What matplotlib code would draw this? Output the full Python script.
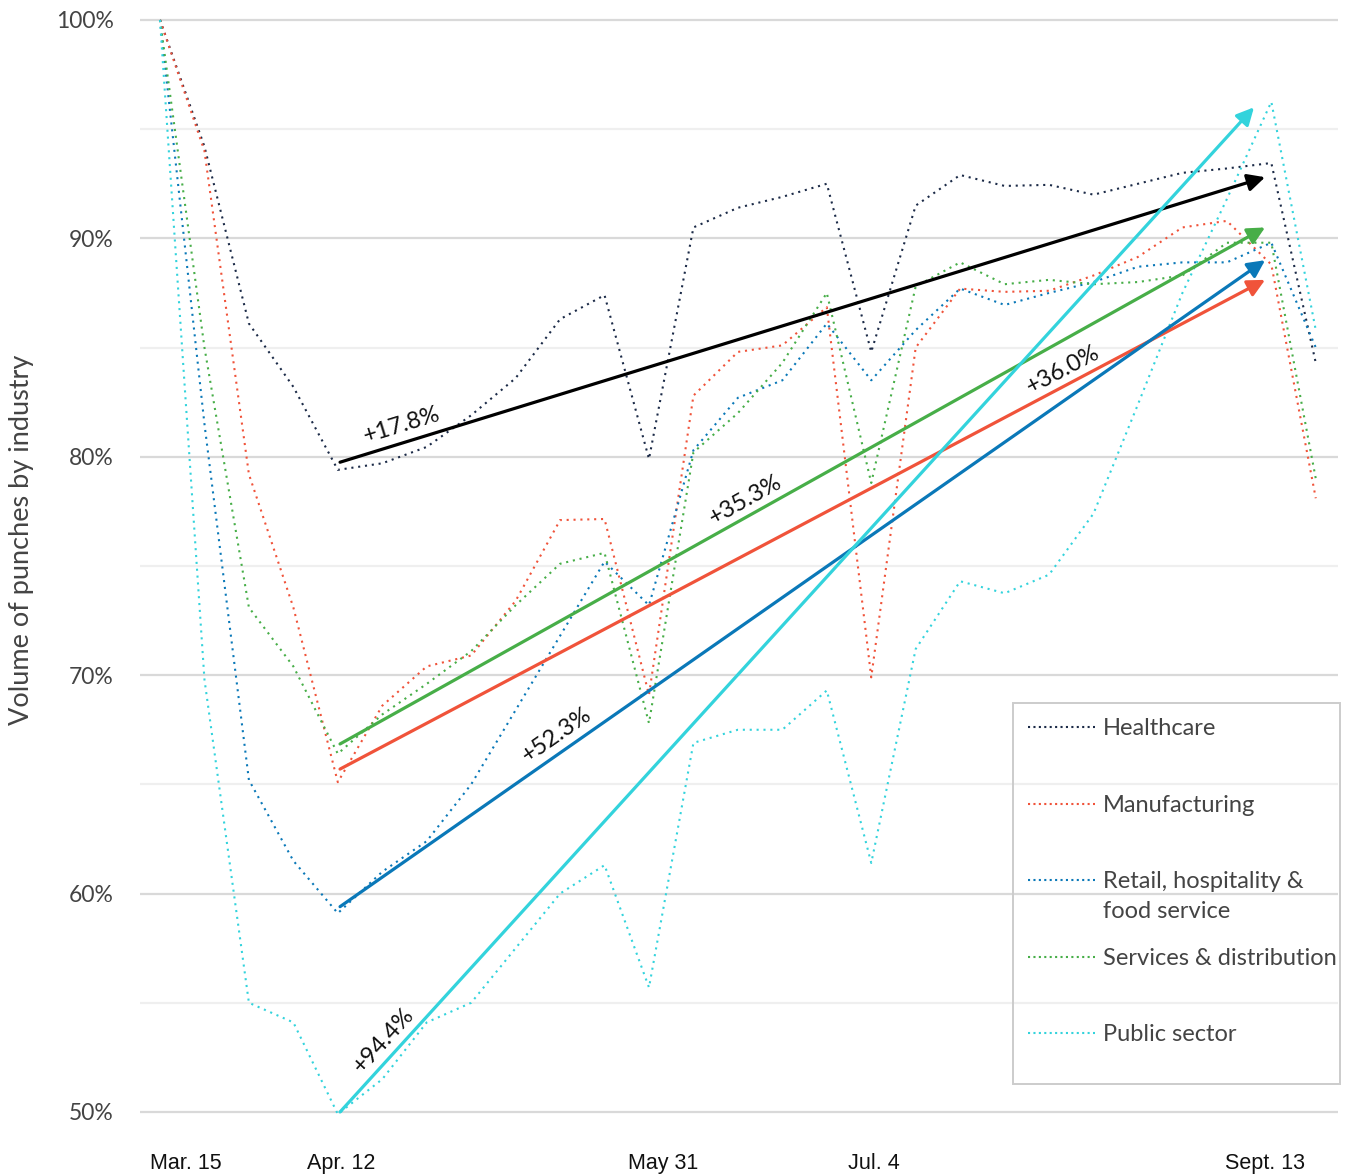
import matplotlib
matplotlib.use("Agg")
import matplotlib.pyplot as plt
from matplotlib.lines import Line2D
from matplotlib.patches import Rectangle
import numpy as np

plt.rcParams['font.family'] = ['Lato', 'DejaVu Sans']

# weekly index, Mar. 15 -> Sept. 13
weeks = np.arange(27)

healthcare = [100, 94.2, 86.1, 83.2, 79.4, 79.7, 80.45, 81.9, 83.6, 86.3, 87.4, 79.9,
              90.5, 91.4, 91.9, 92.5, 84.8, 91.5, 92.9, 92.4, 92.45, 92.0, 92.5, 93.0,
              93.2, 93.45, 84.3]
manufacturing = [100, 94.0, 79.2, 73.1, 65.1, 68.6, 70.4, 70.9, 73.4, 77.1, 77.15, 69.1,
                 82.8, 84.8, 85.1, 86.85, 69.9, 85.0, 87.7, 87.55, 87.6, 88.3, 89.15, 90.5,
                 90.8, 88.8, 78.1]
retail = [100, 81.5, 65.2, 61.5, 59.1, 61.0, 62.4, 65.0, 68.4, 71.8, 75.2, 73.2,
          80.3, 82.7, 83.5, 86.1, 83.5, 85.8, 87.7, 86.95, 87.5, 88.0, 88.7, 88.9,
          88.9, 89.8, 85.0]
services = [100, 85.0, 73.1, 70.4, 66.4, 68.2, 69.6, 71.1, 73.2, 75.1, 75.6, 67.8,
            80.2, 82.0, 84.3, 87.5, 78.8, 87.8, 88.9, 87.9, 88.1, 87.9, 88.0, 88.3,
            89.8, 89.8, 79.0]
public = [100, 69.8, 55.0, 54.1, 49.9, 51.5, 54.1, 55.0, 57.5, 60.0, 61.3, 55.7,
          66.9, 67.5, 67.5, 69.3, 61.4, 71.2, 74.3, 73.75, 74.6, 77.4, 82.4, 87.5,
          91.8, 96.25, 85.8]

names = ['Healthcare', 'Manufacturing', 'Retail, hospitality &\nfood service',
         'Services & distribution', 'Public sector']
series = [healthcare, manufacturing, retail, services, public]
colors = ['#1b2a47', '#f0533a', '#0a78b8', '#47ae48', '#33d3dc']
arrow_colors = ['#000000', '#f0533a', '#0a78b8', '#47ae48', '#33d3dc']

# trend arrows: (start week, start value, end week, end value)
trend_start = [4.05, 4.05, 4.05, 4.05, 4.05]
trend_end = [24.86, 24.86, 24.86, 24.86, 24.61]
trend_v0 = [79.75, 65.7, 59.4, 66.85, 50.0]
trend_v1 = [92.8, 88.1, 89.0, 90.5, 96.0]
trend_labels = ['+17.8%', '+36.0%', '+52.3%', '+35.3%', '+94.4%']
label_pos = [(5.44, 81.46), (20.31, 83.97), (8.93, 67.26), (13.16, 78.02), (5.02, 53.3)]

tick_pos = [0.585, 4.07, 11.32, 16.06, 24.86]
tick_labels = ['Mar. 15', 'Apr. 12', 'May 31', 'Jul. 4', 'Sept. 13']

W, H = 1350, 1174
fig = plt.figure(figsize=(W / 100, H / 100), dpi=100)
ax = fig.add_axes([140 / W, 1 - 1120.7 / H, 1198 / W, 1107.3 / H])
ax.set_xlim(-0.45, 26.5)
ax.set_ylim(49.6, 100.3)

for v in range(50, 101, 10):
    ax.axhline(v, color='#d9d9d9', lw=1.6, zorder=0)
for v in range(55, 100, 10):
    ax.axhline(v, color='#efefef', lw=1.6, zorder=0)

for vals, c in zip(series, colors):
    ax.plot(weeks, vals, color=c, lw=1.5, dashes=(1, 2.3), zorder=2)

for i in range(5):
    ax.annotate('', xy=(trend_end[i], trend_v1[i]), xytext=(trend_start[i], trend_v0[i]),
                arrowprops=dict(arrowstyle='-|>', color=arrow_colors[i], lw=2.3,
                                mutation_scale=26, shrinkA=0, shrinkB=0),
                zorder=3)

fig.canvas.draw()
for i in range(5):
    p0 = ax.transData.transform((trend_start[i], trend_v0[i]))
    p1 = ax.transData.transform((trend_end[i], trend_v1[i]))
    ang = np.degrees(np.arctan2(p1[1] - p0[1], p1[0] - p0[0]))
    ax.text(label_pos[i][0], label_pos[i][1], trend_labels[i], rotation=ang,
            rotation_mode='anchor', ha='center', va='center', fontsize=17,
            color='#111111', zorder=4)

for s in ax.spines.values():
    s.set_visible(False)
ax.set_yticks(range(50, 101, 10))
ax.set_yticklabels([f'{v}%' for v in range(50, 101, 10)], fontsize=16.5, color='#444444')
ax.set_xticks(tick_pos)
ax.set_xticklabels(tick_labels, fontsize=15.5, color='#111111',
                   family=['Liberation Sans', 'DejaVu Sans'])
ax.tick_params(axis='y', length=0, pad=19)
ax.tick_params(axis='x', length=0, pad=23)
fig.text(22 / W, 1 - 540 / H, 'Volume of punches by industry', rotation=90,
         ha='center', va='center', fontsize=19.5, color='#444444')

# legend box
def fx(x):
    return x / W

def fy(y):
    return 1 - y / H

fig.add_artist(Rectangle((fx(1013), fy(1084)), fx(1340) - fx(1013), fy(703) - fy(1084),
                         transform=fig.transFigure, fill=False, edgecolor='#cccccc', lw=1.4))
row_y = [727, 804, 880, 957, 1033]
for name, c, y in zip(names, colors, row_y):
    fig.add_artist(Line2D([fx(1028), fx(1095)], [fy(y), fy(y)], color=c, lw=1.5,
                          dashes=(1, 1.6), transform=fig.transFigure))
    fig.text(fx(1103), fy(y - 9), name, ha='left', va='top', fontsize=17,
             color='#444444', linespacing=1.55)

fig.savefig('out.png', dpi=100)
